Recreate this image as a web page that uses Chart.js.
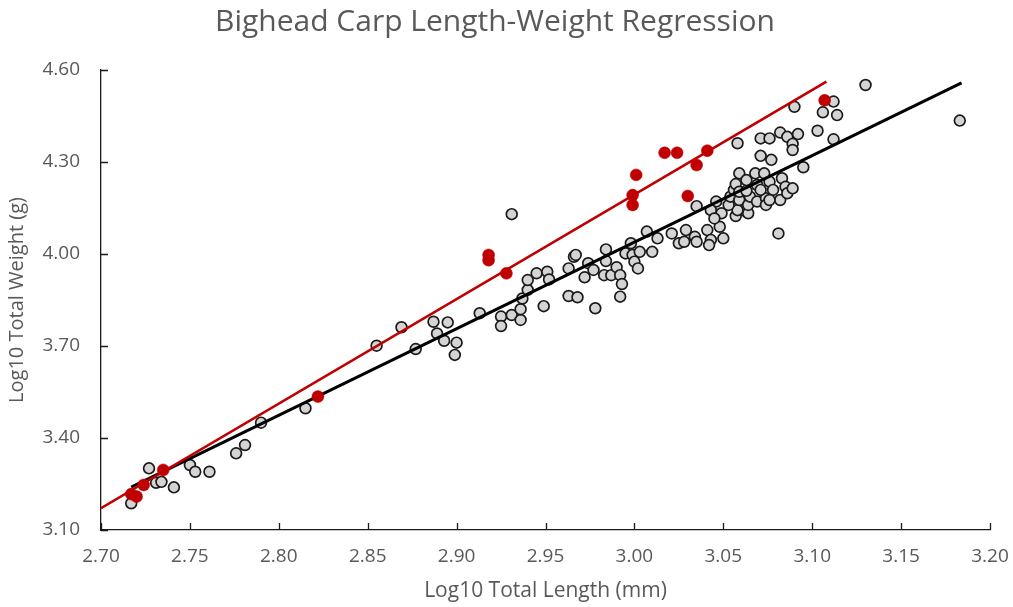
<!DOCTYPE html>
<html>
<head>
<meta charset="utf-8">
<title>Bighead Carp Length-Weight Regression</title>
<script src="https://cdn.jsdelivr.net/npm/chart.js@4.4.1/dist/chart.umd.min.js"></script>
<style>
	html, body { margin: 0; padding: 0; background: #fff; }
	canvas { display: block; }
</style>
</head>
<body>
<canvas id="chartCarp" width="1013" height="607"></canvas>
<script>
'use strict'

// all fish, log10 length (mm) vs log10 weight (g)
const allLength = [
	2.717, 2.727, 2.731, 2.734, 2.741, 2.750, 2.753, 2.761, 2.776, 2.781, 2.790, 2.815,
	2.855, 2.869, 2.877, 2.887, 2.895, 2.889, 2.893, 2.900, 2.899, 2.913, 2.931, 2.925,
	2.925, 2.931, 2.936, 2.936, 2.937, 2.940, 2.940, 2.945, 2.951, 2.952, 2.949, 2.963,
	2.966, 2.967, 2.963, 2.968, 2.978, 2.974, 2.977, 2.972, 2.984, 2.984, 2.983, 2.987,
	2.990, 2.992, 2.993, 2.992, 2.995, 2.999, 3.000, 3.002, 3.003, 2.998, 3.010, 3.007,
	3.013, 3.021, 3.025, 3.029, 3.028, 3.034, 3.035, 3.041, 3.048, 3.043, 3.050, 3.042,
	3.035, 3.046, 3.043, 3.049, 3.045, 3.057, 3.061, 3.064, 3.058, 3.053, 3.054, 3.056,
	3.059, 3.064, 3.065, 3.069, 3.074, 3.074, 3.082, 3.057, 3.059, 3.063, 3.069, 3.076,
	3.083, 3.085, 3.078, 3.086, 3.059, 3.068, 3.073, 3.063, 3.071, 3.077, 3.058, 3.071,
	3.076, 3.082, 3.086, 3.092, 3.089, 3.089, 3.090, 3.112, 3.106, 3.114, 3.130, 3.103,
	3.112, 3.095, 3.183, 3.081, 3.089, 3.076, 3.071
];
const allWeight = [
	3.187, 3.301, 3.254, 3.257, 3.239, 3.312, 3.290, 3.290, 3.350, 3.377, 3.450, 3.497,
	3.701, 3.761, 3.690, 3.779, 3.777, 3.741, 3.717, 3.711, 3.671, 3.807, 4.130, 3.796,
	3.765, 3.801, 3.785, 3.820, 3.855, 3.883, 3.915, 3.937, 3.942, 3.917, 3.830, 3.953,
	3.991, 3.997, 3.863, 3.859, 3.823, 3.970, 3.948, 3.924, 4.015, 3.977, 3.931, 3.931,
	3.957, 3.931, 3.902, 3.861, 4.002, 3.997, 3.975, 3.953, 4.007, 4.035, 4.007, 4.073,
	4.051, 4.067, 4.035, 4.078, 4.040, 4.056, 4.040, 4.078, 4.089, 4.046, 4.051, 4.029,
	4.156, 4.171, 4.143, 4.133, 4.116, 4.124, 4.143, 4.133, 4.143, 4.160, 4.187, 4.209,
	4.176, 4.160, 4.187, 4.171, 4.182, 4.160, 4.176, 4.228, 4.203, 4.206, 4.225, 4.236,
	4.247, 4.219, 4.209, 4.198, 4.263, 4.263, 4.263, 4.241, 4.320, 4.307, 4.361, 4.377,
	4.377, 4.396, 4.382, 4.391, 4.359, 4.339, 4.480, 4.497, 4.462, 4.453, 4.551, 4.402,
	4.374, 4.283, 4.435, 4.067, 4.214, 4.176, 4.209
];

// highlighted fish
const redLength = [2.717, 2.720, 2.724, 2.735, 2.822, 2.918, 2.918, 2.928, 2.999, 2.999, 3.001, 3.017, 3.024, 3.041, 3.035, 3.030, 3.107];
const redWeight = [3.217, 3.209, 3.247, 3.296, 3.535, 3.997, 3.980, 3.937, 4.192, 4.160, 4.258, 4.330, 4.330, 4.337, 4.290, 4.189, 4.501];

// trendline end points
const allFitLength = [2.717, 3.184];
const allFitWeight = [3.240, 4.558];
const redFitLength = [2.700, 3.108];
const redFitWeight = [3.171, 4.562];

const xTicks = [2.70, 2.75, 2.80, 2.85, 2.90, 2.95, 3.00, 3.05, 3.10, 3.15, 3.20];
const yTicks = [3.10, 3.40, 3.70, 4.00, 4.30, 4.60];

const textColor = '#595959';
const red = '#C00000';

const toPoints = (xs, ys) => xs.map((x, i) => ({ x: x, y: ys[i] }));

// tick marks drawn inward from the axis lines
const innerTicks = {
	id: 'innerTicks',
	afterDatasetsDraw(chart) {
		const { ctx, scales: { x, y } } = chart;
		ctx.save();
		ctx.strokeStyle = '#1a1a1a';
		ctx.lineWidth = 1.3;
		ctx.beginPath();
		xTicks.forEach(v => {
			const px = Math.round(x.getPixelForValue(v)) + 0.5;
			ctx.moveTo(px, y.bottom);
			ctx.lineTo(px, y.bottom - 7);
		});
		yTicks.forEach(v => {
			const py = Math.round(y.getPixelForValue(v)) + 0.5;
			ctx.moveTo(x.left, py);
			ctx.lineTo(x.left + 7, py);
		});
		ctx.stroke();
		ctx.restore();
	},
};

let chartCarp = new Chart(document.getElementById('chartCarp'), {
	type: 'scatter',
	data: {
		datasets: [
			{
				label: 'All fish',
				data: toPoints(allLength, allWeight),
				order: 4,
				pointRadius: 5.4,
				pointBorderWidth: 1.7,
				backgroundColor: '#D4D4D4',
				borderColor: '#1a1a1a',
			},
			{
				label: 'All fish fit',
				type: 'line',
				data: toPoints(allFitLength, allFitWeight),
				order: 3,
				borderColor: '#000',
				borderWidth: 3,
				pointRadius: 0,
				fill: false,
			},
			{
				label: 'Highlighted',
				data: toPoints(redLength, redWeight),
				order: 2,
				pointRadius: 6,
				pointBorderWidth: 0.5,
				backgroundColor: red,
				borderColor: red,
			},
			{
				label: 'Highlighted fit',
				type: 'line',
				data: toPoints(redFitLength, redFitWeight),
				order: 1,
				borderColor: red,
				borderWidth: 2.6,
				pointRadius: 0,
				fill: false,
			},
		],
	},
	options: {
		responsive: false,
		animation: false,
		layout: {
			padding: { left: 0, right: 23, top: 0, bottom: 0 },
		},
		plugins: {
			legend: { display: false },
			tooltip: { enabled: false },
			title: {
				display: true,
				text: 'Bighead Carp Length-Weight Regression',
				color: textColor,
				font: { family: 'Open Sans', size: 30, weight: 'normal' },
				padding: { top: 4, bottom: 30 },
			},
		},
		scales: {
			x: {
				type: 'linear',
				min: 2.70,
				max: 3.20,
				afterBuildTicks: scale => { scale.ticks = xTicks.map(v => ({ value: v })); },
				afterFit: scale => {
					scale.height = 77;
					scale.paddingLeft = 0;
					scale.paddingRight = 0;
				},
				grid: { display: false, drawTicks: false },
				border: { display: true, color: '#1a1a1a', width: 1.3 },
				ticks: {
					padding: 15,
					color: textColor,
					font: { family: 'Open Sans', size: 19 },
					callback: v => v.toFixed(2),
				},
				title: {
					display: true,
					text: 'Log10 Total Length (mm)',
					color: textColor,
					font: { family: 'Open Sans', size: 21 },
					padding: { top: 0, bottom: 3 },
				},
			},
			y: {
				type: 'linear',
				min: 3.10,
				max: 4.60,
				afterBuildTicks: scale => { scale.ticks = yTicks.map(v => ({ value: v })); },
				afterFit: scale => {
					scale.width = 101;
					scale.paddingTop = 0;
					scale.paddingBottom = 0;
				},
				grid: { display: false, drawTicks: false },
				border: { display: true, color: '#1a1a1a', width: 1.3 },
				ticks: {
					padding: 21,
					color: textColor,
					font: { family: 'Open Sans', size: 19 },
					callback: v => v.toFixed(2),
				},
				title: {
					display: true,
					text: 'Log10 Total Weight (g)',
					color: textColor,
					font: { family: 'Open Sans', size: 20 },
					padding: { top: 5, bottom: 0 },
				},
			},
		},
	},
	plugins: [innerTicks],
});
</script>
</body>
</html>
